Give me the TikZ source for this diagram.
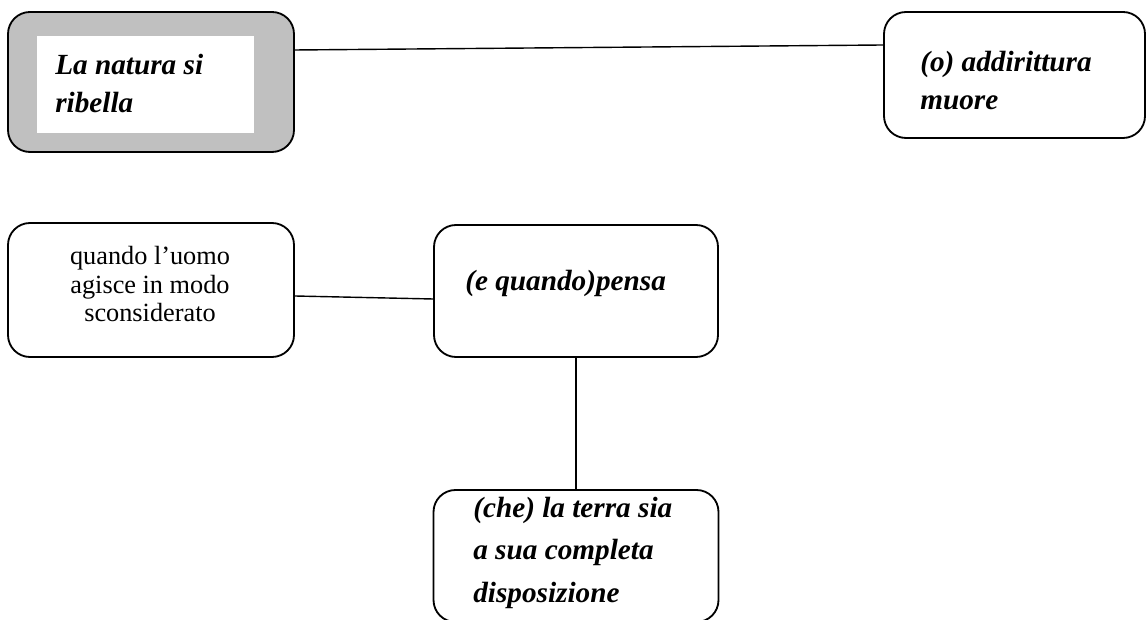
\documentclass[tikz,border=0pt]{standalone}
\usepackage{fontspec}
\setmainfont{Liberation Serif}
\usepackage{xcolor}
\usetikzlibrary{calc,positioning}
\definecolor{shadegray}{HTML}{C0C0C0}
\tikzset{
  frame/.style={draw,rounded corners=0.55cm,line width=1.3pt,inner sep=0pt,fill=white},
  keyframe/.style={frame,fill=shadegray},
  bitext/.style={font=\fontsize{20.8}{27.7}\selectfont\bfseries\itshape,align=left,
                 anchor=base west,inner sep=0pt},
  plaintext/.style={font=\fontsize{18.7}{20.3}\selectfont,align=center,
                    anchor=base,inner sep=0pt},
  link/.style={line width=1pt}
}

\begin{document}
\begin{tikzpicture}
  \useasboundingbox (0,0) rectangle (28.675,15.475);

  % Top row: main statement and its consequence.
  \node[keyframe,minimum width=7.15cm,minimum height=3.5cm] (natura) at (3.775,13.425) {};
  \fill[white] (0.925,12.15) rectangle (6.35,14.575);
  \node[bitext] (naturatxt) at (1.375,12.65) {La natura si\\ribella};
  \node[frame,minimum width=6.525cm,minimum height=3.15cm] (muore) at (25.3625,13.6) {};
  \node[bitext] (muoretxt) at (23.0,12.725) {(o) addirittura\\muore};
  \draw[link] ([yshift=0.8cm]natura.east) -- ([yshift=0.75cm]muore.west);

  % Bottom: condition and what man thinks.
  \node[frame,minimum width=7.15cm,minimum height=3.35cm] (uomo) at (3.775,8.225) {};
  \node[plaintext] (uomotxt) at (3.75,7.425) {quando l’uomo\\agisce in modo\\sconsiderato};
  \node[frame,minimum width=7.1cm,minimum height=3.3cm] (pensa) at (14.4,8.2) {};
  \node[bitext] (pensatxt) at (11.625,8.2) {(e quando)pensa};
  \node[frame,minimum width=7.125cm,minimum height=3.3cm] (terra) at (14.4,1.575) {};
  \node[bitext,font=\fontsize{20.8}{29.9}\selectfont\bfseries\itshape] (terratxt) at (11.825,0.425)
    {(che) la terra sia\\a sua completa\\disposizione};
  \draw[link] ([yshift=-0.15cm]uomo.east) -- ([yshift=-0.2cm]pensa.west);
  \draw[link] (pensa.south) -- (terra.north);
\end{tikzpicture}
\end{document}
